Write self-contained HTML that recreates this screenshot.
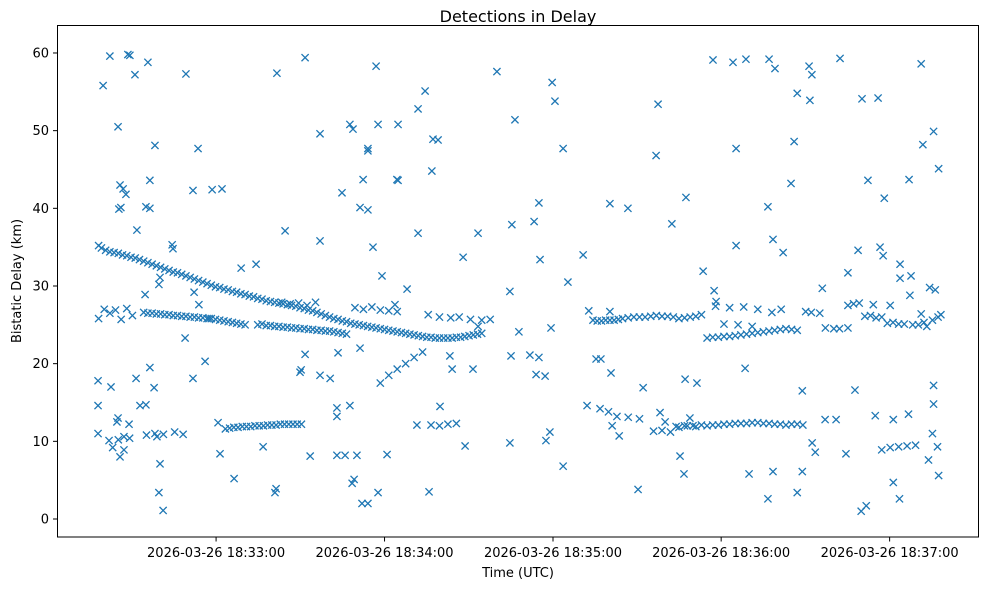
<!DOCTYPE html>
<html><head><meta charset="utf-8">
<style>
html,body{margin:0;padding:0;background:#fff;}
svg text{font-family:"DejaVu Sans","Liberation Sans",sans-serif;fill:#000;}
</style></head>
<body>
<svg id="chart" width="989" height="590" viewBox="0 0 989 590" xmlns="http://www.w3.org/2000/svg">
<rect x="0" y="0" width="989" height="590" fill="#fff"/>
<text x="518" y="22" font-size="16" text-anchor="middle">Detections in Delay</text>
<text x="518" y="577" font-size="13" text-anchor="middle">Time (UTC)</text>
<text x="0" y="0" font-size="13" text-anchor="middle" transform="translate(21,281) rotate(-90)">Bistatic Delay (km)</text>
<g id="marks"></g>
<g id="axes"></g>
<rect x="57.5" y="25.5" width="921" height="511.5" fill="none" stroke="#000" stroke-width="1"/>
</svg>
<script>
// seconds since 18:32:00 (approx) and bistatic delay (km)
const trackTimes = [24,25,28,31,34,37,40,43,46,49,52,55,58,61,64,67,70,73,76,79,82,85,88,91,94,97,100,103,106,109,112,115,118,121,124,127,130,133,136,139,142,145,148,151,154,157,160,
24,26,28,30,32,34,36,40,43,46,49,52,55,58,61,64,67,70,73,76,82,85,88,91,94,97,100,103,106,109,112,89,92,95,98,101,115,118,121,124,127,130,124,127,130,133,136,139,141,145,149,152,156,160,163,
41,44,47,51,54,69,72,75,78,81,84,87,90,93,96,142,145,148,151,31,33,35,29,
198,201,204,207,210,214,218,222,226,230,234,238,240,244,248,252,256,260,264,268,272,243,248,253,258,263,246,251,256,275,280,285,290,294,298,302,306,310,315,320,323,318,305,312,299,321,319,316,290,
202,205,208,212,216,221,224,227,230,233,236,240,244,248,252,256,260,264,268,272,302,305,308,311,314];
const trackDelays = [35.2,34.9,34.4,34.2,33.9,33.6,33.2,32.8,32.4,32.0,31.7,31.3,30.9,30.5,30.1,29.8,29.5,29.2,28.9,28.6,28.3,28.0,27.8,27.6,27.4,27.1,26.8,26.4,26.0,25.7,25.4,25.1,24.9,24.7,24.5,24.3,24.1,23.9,23.7,23.5,23.4,23.3,23.3,23.4,23.5,23.7,23.9,
25.8,27.0,26.5,26.9,25.7,27.1,26.2,26.6,26.5,26.4,26.3,26.2,26.1,26.0,25.9,25.8,25.6,25.4,25.2,25.0,25.1,24.9,24.8,24.7,24.6,24.5,24.4,24.3,24.2,24.0,23.8,27.9,27.7,27.8,27.5,27.9,27.2,27.0,27.3,26.9,26.8,26.7,17.5,18.5,19.3,20.0,20.8,21.5,26.3,26.0,25.9,26.0,25.7,25.6,25.7,
10.8,11.0,10.9,11.2,10.9,11.6,11.8,11.9,11.9,12.0,12.1,12.1,12.2,12.2,12.2,12.1,12.0,12.2,12.3,10.2,10.6,10.4,9.2,
26.8,25.5,25.6,25.6,25.8,26.0,26.0,26.2,26.1,25.8,26.0,26.3,23.3,23.4,23.5,23.7,23.9,24.1,24.3,24.5,24.3,27.4,27.2,27.3,27.0,26.6,25.1,25.0,24.8,26.7,26.5,24.5,24.6,27.8,26.2,26.0,25.3,25.1,25.0,25.6,26.3,24.8,27.5,28.8,27.6,29.5,29.8,26.4,27.5,
14.2,13.8,13.2,13.1,12.9,11.3,11.4,11.2,11.8,12.0,11.9,12.0,12.1,12.2,12.3,12.4,12.3,12.2,12.1,12.2,8.9,9.2,9.3,9.4,9.5];
// additional dense detections along the main tracks
const denseTimes = [26.5,29.5,32.5,35.5,38.5,41.5,44.5,47.5,50.5,53.5,56.5,59.5,62.5,65.5,68.5,71.5,74.5,77.5,80.5,83.5,86.5,89.5,92.5,95.5,98.5,101.5,104.5,107.5,110.5,113.5,116.5,119.5,122.5,125.5,128.5,131.5,134.5,137.5,140.5,143.5,146.5,149.5,152.5,155.5,158.5,
41.5,44.5,47.5,50.5,53.5,56.5,59.5,62.5,65.5,68.5,71.5,74.5,80.5,83.5,86.5,89.5,92.5,95.5,98.5,101.5,104.5,107.5,110.5,
70.5,73.5,76.5,79.5,82.5,85.5,88.5,91.5,94.5,
199.5,202.5,205.5,208.5,212,216,220,224,228,232,236,242,246,250,254,258,262,266,270,
229,232,235,238,242,246,250,254,258,262,266,270,274,
277,282,287,292,296,300,304,308,313,317,322];
const denseDelays = [34.6,34.3,34.0,33.7,33.4,33.0,32.6,32.2,31.8,31.5,31.1,30.7,30.3,29.9,29.6,29.3,29.0,28.7,28.4,28.1,27.9,27.7,27.5,27.2,26.9,26.6,26.2,25.8,25.5,25.2,25.0,24.8,24.6,24.4,24.2,24.0,23.8,23.6,23.4,23.3,23.3,23.3,23.4,23.6,23.8,
26.5,26.4,26.3,26.2,26.1,26.0,25.9,25.8,25.7,25.5,25.3,25.1,25.0,24.9,24.8,24.7,24.6,24.5,24.4,24.3,24.2,24.1,23.9,
11.7,11.8,11.9,12.0,12.0,12.1,12.2,12.2,12.2,
25.6,25.5,25.6,25.7,25.9,26.0,26.1,26.1,26.0,25.9,26.1,23.4,23.5,23.6,23.8,24.0,24.2,24.4,24.4,
11.9,12.0,12.0,12.1,12.1,12.2,12.3,12.3,12.4,12.3,12.2,12.2,12.1,
26.6,24.6,24.5,27.7,26.1,25.9,25.2,25.1,25.0,25.3,26.0];
const noiseTimes = [25.6,28,34.4,35.1,36.9,41.5,55,87.3,97.3,122.5,165.4,185,242.1,249.2,253.8,262,264.1,276.2,287.2,316,
30.9,44,59.3,102.6,113.2,114.3,119.6,119.6,123.2,130.3,137.4,139.9,142.7,144.5,171.8,186,188.9,222.6,250.3,270.9,272,276.5,277.2,295,300.7,316.6,320.4,322.2,
31.6,32.7,33.7,31.2,31.9,37.6,42.2,40.8,42.2,57.5,64.3,67.8,110.4,117.9,116.8,119.6,129.9,130.3,137.4,142.3,158.7,170.7,178.6,180.3,205.5,211.9,221.9,227.5,232.5,250.3,261.6,263.4,267.0,269.8,290.0,293.6,297.1,301.4,302.5,302.9,308.5,308.5,312.4,311.7,
23.8,23.8,23.8,28.4,27.7,30.5,30.9,31.6,33.0,34.8,37.3,38.7,40.8,42.2,43.7,44.7,45.4,45.8,46.9,45.4,40.5,45.8,50.1,50.4,54.7,57.5,57.9,59.6,61.8,63.2,66.4,67.1,72.1,74.6,79.9,82.4,86.6,87.0,90.2,95.5,95.9,97.3,99.1,102.6,102.6,106.2,109.0,108.6,108.6,108.6,111.5,113.2,114.0,114.7,115.7,116.8,117.5,119.6,121.4,123.2,124.6,126.4,129.2,133.5,137.0,141.3,145.2,148.7,149.5,153.4,154.1,156.9,158.7,170.0,170.4,170.0,173.2,177.1,179.3,180.3,180.7,182.5,182.8,184.6,184.2,188.9,190.6,196.0,197.4,200.6,202.3,205.5,205.9,206.3,208.8,215.5,217.3,223.3,225.1,230.4,231.8,232.2,233.9,236.4,238.6,242.5,243.2,253.5,254.9,261.6,263.4,266.3,272.0,273.8,273.8,277.3,278.4,280.9,281.9,285.8,289.3,292.5,294.7,296.5,299.7,306.1,308.3,311.5,318.6,320.0,320.4,320.4,321.8,322.2,306.1];
const noiseDelays = [55.8,59.6,59.8,59.7,57.2,58.8,57.3,57.4,59.4,58.3,57.6,56.2,59.1,58.8,59.2,59.2,58.0,58.3,59.3,58.6,
50.5,48.1,47.7,49.6,50.8,50.2,47.4,47.7,50.8,50.8,52.8,55.1,48.9,48.8,51.4,53.8,47.7,53.4,47.7,48.6,54.8,53.9,57.2,54.1,54.2,48.2,49.9,45.1,
43.0,42.5,41.8,39.9,40.1,37.2,43.6,40.2,40.0,42.3,42.4,42.5,42.0,43.7,40.1,39.8,43.7,43.6,36.8,44.8,36.8,37.9,38.3,40.7,40.6,40.0,46.8,38.0,41.4,35.2,40.2,36.0,34.3,43.2,31.7,34.6,43.6,35.0,33.9,41.3,31.0,32.8,31.3,43.7,
17.8,14.6,11.0,17.0,10.1,12.5,13.0,8.0,8.9,12.2,18.1,14.6,14.7,19.5,16.9,10.6,3.4,7.1,1.1,30.2,28.9,31.1,35.3,34.8,23.3,18.1,29.2,27.6,20.3,25.8,12.4,8.4,5.2,32.3,32.8,9.3,3.4,3.9,37.1,18.9,19.2,21.2,8.1,35.8,18.5,18.1,21.4,14.3,13.2,8.2,8.2,14.6,4.6,5.1,8.2,22.0,2.0,2.0,35.0,3.4,31.3,8.3,27.6,29.6,12.1,3.5,14.5,21.0,19.3,33.7,9.4,19.3,24.8,29.3,21.0,9.8,24.1,21.1,18.6,20.8,33.4,18.4,10.1,24.6,11.2,6.8,30.5,34.0,14.6,20.6,20.6,26.7,18.8,12.0,10.7,3.8,16.9,13.7,12.5,8.1,5.8,18.0,13.0,17.5,31.9,29.4,28.0,19.4,5.8,2.6,6.1,27.0,3.4,6.1,16.5,9.8,8.6,29.7,12.8,12.8,8.4,16.6,1.0,1.7,13.3,4.7,2.6,13.5,7.6,11.0,17.2,14.8,9.3,5.6,12.8];
const xTickTimes = [65.7,125.5,185.3,245.0,304.8];
const xTickLabels = ["2026-03-26 18:33:00","2026-03-26 18:34:00","2026-03-26 18:35:00","2026-03-26 18:36:00","2026-03-26 18:37:00"];
const yTicks = [0,10,20,30,40,50,60];

const NS = "http://www.w3.org/2000/svg";
function xScale(t){ return 31 + t*2.817; }
function yScale(d){ return 519 - d*7.767; }
const marks = document.getElementById('marks');
const axes = document.getElementById('axes');
function mk(tag, attrs, parent){ const e=document.createElementNS(NS,tag); for(const k in attrs) e.setAttribute(k,attrs[k]); parent.appendChild(e); return e; }
function drawX(t,d){
  const cx=xScale(t), cy=yScale(d), r=3.6;
  const p=mk('path',{d:`M${cx-r},${cy-r}L${cx+r},${cy+r}M${cx-r},${cy+r}L${cx+r},${cy-r}`,stroke:'#1f77b4','stroke-width':1.3,fill:'none'},marks);
  
  
}
for(let i=0;i<trackTimes.length;i++) drawX(trackTimes[i],trackDelays[i]);
for(let i=0;i<denseTimes.length;i++) drawX(denseTimes[i],denseDelays[i]);
for(let i=0;i<noiseTimes.length;i++) drawX(noiseTimes[i],noiseDelays[i]);
yTicks.forEach(v=>{
  const y=yScale(v);
  mk('line',{x1:53,x2:57.5,y1:y,y2:y,stroke:'#000','stroke-width':1},axes);
  const tx=mk('text',{x:49,y:y+4.5,'font-size':13,'text-anchor':'end'},axes);
  tx.textContent=v;
  
  
});
xTickTimes.forEach((t,i)=>{
  const x=xScale(t);
  mk('line',{x1:x,x2:x,y1:537,y2:541.5,stroke:'#000','stroke-width':1},axes);
  const tx=mk('text',{x:x,y:557,'font-size':13,'text-anchor':'middle'},axes);
  tx.textContent=xTickLabels[i];
  
  
});
</script>
</body></html>
